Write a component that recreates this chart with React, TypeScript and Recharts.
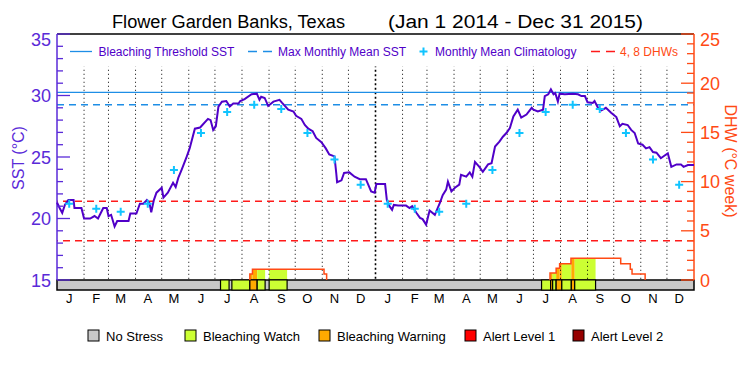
import React from 'react';
import { ComposedChart, Line, XAxis, YAxis, ReferenceLine, ReferenceArea } from 'recharts';

// ---- data ----
const sstDays = [0,3,6,9,13,19,20,28,31,38,43,47,53,57,59,62,66,69,82,84,91,95,99,103,106,108,111,114,120,122,127,133,136,139,143,148,152,158,164,173,176,179,182,185,189,194,198,202,208,210,215,223,229,232,234,238,242,248,255,258,265,271,274,280,284,288,293,297,303,308,312,318,320,321,326,329,335,341,347,354,360,364,366,376,378,381,384,386,391,400,404,407,412,416,419,423,427,433,439,442,446,448,452,456,461,463,469,473,476,479,484,488,494,498,502,507,511,515,519,523,528,532,538,544,546,551,557,559,563,566,569,571,574,576,582,591,597,601,605,608,614,616,620,624,629,635,641,645,648,654,658,662,666,671,675,679,683,687,692,696,700,704,710,715,718,723,730];
const sstValues = [21.3,20.85,20.45,21.1,21.5,21.5,20.85,20.85,20.0,20.0,20.2,20.0,20.85,20.85,20.2,20.3,19.35,19.8,19.8,20.4,20.4,21.2,21.2,21.5,21.25,20.5,21.5,22.1,22.5,21.7,22.1,22.9,22.55,23.3,24.0,24.9,25.7,27.3,27.4,28.1,28.0,27.2,27.5,29.1,29.5,29.55,29.1,29.35,29.35,29.55,29.7,30.1,30.15,29.65,29.9,29.8,29.15,29.5,29.65,29.4,28.85,28.7,28.35,28.1,27.6,27.3,27.1,26.55,26.2,25.7,25.2,25.05,23.7,22.95,23.1,23.7,23.75,23.4,23.2,23.2,22.2,22.1,22.8,22.8,21.5,21.0,20.7,21.1,21.05,21.05,20.85,21.0,20.45,20.05,19.95,19.5,20.65,20.3,21.3,21.9,22.35,23.0,22.2,22.5,22.75,23.55,23.4,23.75,23.4,24.6,24.2,23.8,24.4,24.5,25.85,26.25,26.65,26.95,27.35,28.3,28.85,28.2,28.45,29.0,28.85,28.7,28.85,29.95,30.1,30.5,30.1,30.2,29.5,30.15,30.1,30.15,30.1,29.95,29.95,29.45,29.4,29.55,29.0,28.8,29.0,28.6,28.25,27.5,27.7,27.6,27.2,26.95,26.1,26.0,25.7,25.8,25.4,25.35,24.9,25.1,25.3,24.2,24.4,24.4,24.2,24.35,24.35];

const climDays = [14,45,73,104,134,165,195,226,257,287,318,348,379,410,438,469,499,530,560,591,622,652,683,713];
const climValues = [21.2,20.8,20.55,21.2,23.95,26.95,28.65,29.25,28.9,26.95,24.8,22.75,21.2,20.8,20.55,21.2,23.95,26.95,28.65,29.25,28.9,26.95,24.8,22.75];

const dhw2014Days = [221,221,224,306,309];
const dhw2014Values = [0,0.6,1.1,0.6,0];
const dhw2015Days = [565,565,572,576,589,646,657,659,674];
const dhw2015Values = [0,0.7,1.2,1.65,2.2,1.65,1.1,0.6,0];

const stressStart = [187.4,200.4,221,229.4,243.1,555.3,565.7,568,572,578.5,589.4,593.3];
const stressEnd = [197.2,221,229.4,238.5,263.7,565.7,568,572,578.5,589.4,593.3,617.2];
const stressLevel = [1,1,2,1,1,1,2,1,2,1,2,1];

const MMM = 29.25;
const THRESHOLD = 30.25;
const DHW_LINES = [4, 8];

const monthStarts = [31,59,90,120,151,181,212,243,273,304,334,365,396,424,455,485,516,546,577,608,638,669,699];
const monthMids = [14,45,73,104,134,165,195,226,257,287,318,348,379,410,438,469,499,530,560,591,622,652,683,713];
const monthLetters = ['J','F','M','A','M','J','J','A','S','O','N','D','J','F','M','A','M','J','J','A','S','O','N','D'];
const yearMids = [182.5, 547.5];
const yearLabels = ['2014', '2015'];
const sstTicks = [15,16,17,18,19,20,21,22,23,24,25,26,27,28,29,30,31,32,33,34,35];
const dhwTicks = [0,1,2,3,4,5,6,7,8,9,10,11,12,13,14,15,16,17,18,19,20,21,22,23,24,25];

const stressNames = ['No Stress', 'Bleaching Watch', 'Bleaching Warning', 'Alert Level 1', 'Alert Level 2'];
const stressColors = ['#c8c8c8', '#ccff33', '#ffaa00', '#ff0000', '#960000'];

// ---- layout ----
const FONT = '"Liberation Sans", Arial, sans-serif';
const PURPLE = '#5a2ad8';
const ORANGE = '#ff4a14';
const SST_COLOR = '#5000c8';
const BLUE = '#1e8ee6';
const CYAN = '#10c4ff';
const RED = '#ff1a1a';
const SST_MIN = 14.187;
const DHW_MIN = -1.016;

const sstData = sstDays.map((d, i) => ({ day: d, sst: sstValues[i] }));
const climData = climDays.map((d, i) => ({ day: d, clim: climValues[i] }));
const dhw2014 = dhw2014Days.map((d, i) => ({ day: d, dhw: dhw2014Values[i] }));
const dhw2015 = dhw2015Days.map((d, i) => ({ day: d, dhw: dhw2015Values[i] }));

// fill under the DHW curve, coloured by the stress level of that day
const fills: { x1: number; x2: number; y: number; color: string }[] = [];
[[dhw2014Days, dhw2014Values], [dhw2015Days, dhw2015Values]].forEach(([days, vals]) => {
  for (let i = 0; i < days.length - 1; i++) {
    if (vals[i] <= 0) continue;
    stressStart.forEach((s, j) => {
      const a = Math.max(s, days[i]);
      const b = Math.min(stressEnd[j], days[i + 1]);
      if (b > a) fills.push({ x1: a, x2: b, y: vals[i], color: stressColors[stressLevel[j]] });
    });
  }
});

const SstTick = (props: any) => {
  const { x, y, payload } = props;
  const major = payload.value % 5 === 0;
  return (
    <g>
      <line x1={x} x2={x + (major ? 13 : 6)} y1={y} y2={y} stroke={PURPLE} strokeWidth={1.3} />
      {major && (
        <text x={x - 6} y={y + (payload.value === 35 ? 12 : 6.5)} textAnchor="end" fontSize={18} fontFamily={FONT} fill={PURPLE}>
          {payload.value}
        </text>
      )}
    </g>
  );
};

const DhwTick = (props: any) => {
  const { x, y, payload } = props;
  const major = payload.value % 5 === 0;
  return (
    <g>
      <line x1={x - (major ? 13 : 7)} x2={x} y1={y} y2={y} stroke={ORANGE} strokeWidth={1.3} />
      {major && (
        <text x={x + 6} y={y + (payload.value === 25 ? 12 : 6.5)} textAnchor="start" fontSize={18} fontFamily={FONT} fill={ORANGE}>
          {payload.value}
        </text>
      )}
    </g>
  );
};

const Cross = (props: any) => {
  const { cx, cy } = props;
  if (cx == null || cy == null) return <g />;
  return <path d={`M${cx - 4},${cy}H${cx + 4}M${cx},${cy - 4}V${cy + 4}`} stroke={CYAN} strokeWidth={2} fill="none" />;
};

export default function App() {
  return (
    <div style={{ position: 'absolute', left: 0, top: 0, width: 750, height: 375, background: '#fff', fontFamily: FONT }}>
      <ComposedChart width={750} height={375} margin={{ top: 34, right: 0, bottom: 48, left: 0 }}>
        <XAxis dataKey="day" type="number" domain={[0, 730]} ticks={monthMids} interval={0}
          tickFormatter={(v: number) => monthLetters[monthMids.indexOf(v)]}
          axisLine={false} tickLine={false} tickSize={0} tickMargin={4} height={17}
          tick={{ fill: '#000', fontSize: 13, fontFamily: FONT }} />
        <XAxis xAxisId="year" dataKey="day" type="number" domain={[0, 730]} ticks={yearMids} interval={0}
          tickFormatter={(v: number) => yearLabels[yearMids.indexOf(v)]}
          axisLine={false} tickLine={false} tickSize={0} tickMargin={3} height={20}
          tick={{ fill: '#000', fontSize: 15, fontFamily: FONT }} />
        <YAxis yAxisId="sst" orientation="left" type="number" domain={[SST_MIN, 35]} ticks={sstTicks} interval={0}
          axisLine={false} tickLine={false} tickSize={0} tickMargin={0} width={57} tick={<SstTick />} />
        <YAxis yAxisId="dhw" orientation="right" type="number" domain={[DHW_MIN, 25]} ticks={dhwTicks} interval={0}
          axisLine={false} tickLine={false} tickSize={0} tickMargin={0} width={56} tick={<DhwTick />} />

        {monthStarts.map((d) => (
          <ReferenceLine key={`m${d}`} yAxisId="sst" segment={[{ x: d, y: 15.1 }, { x: d, y: 32.35 }]}
            stroke="#000" strokeWidth={d === 365 ? 1.6 : 1} strokeDasharray={d === 365 ? '2 2.5' : '1 3'} />
        ))}

        {fills.map((f, i) => (
          <ReferenceArea key={`f${i}`} yAxisId="dhw" x1={f.x1} x2={f.x2} y1={0} y2={f.y} fill={f.color} fillOpacity={1} stroke="none" />
        ))}

        <ReferenceArea yAxisId="dhw" x1={0} x2={730} y1={DHW_MIN} y2={0} fill={stressColors[0]} fillOpacity={1} stroke="#000" strokeWidth={1.5} />
        {stressStart.map((s, i) => (
          <ReferenceArea key={`s${i}`} yAxisId="dhw" x1={s} x2={stressEnd[i]} y1={DHW_MIN} y2={0}
            fill={stressColors[stressLevel[i]]} fillOpacity={1} stroke="#000" strokeWidth={1.2} />
        ))}

        <ReferenceLine yAxisId="sst" y={THRESHOLD} stroke={BLUE} strokeWidth={1.3} />
        <ReferenceLine yAxisId="sst" y={MMM} stroke={BLUE} strokeWidth={1.3} strokeDasharray="7 5" />
        {DHW_LINES.map((v) => (
          <ReferenceLine key={`d${v}`} yAxisId="dhw" y={v} stroke={RED} strokeWidth={1.5} strokeDasharray="7 5" />
        ))}

        <ReferenceLine yAxisId="sst" y={35} stroke="#000" strokeWidth={1.5} />
        <ReferenceLine yAxisId="sst" segment={[{ x: 0, y: 15 }, { x: 0, y: 35 }]} stroke={PURPLE} strokeWidth={1.5} />
        <ReferenceLine yAxisId="dhw" segment={[{ x: 730, y: 0 }, { x: 730, y: 25 }]} stroke={ORANGE} strokeWidth={1.5} />

        <Line yAxisId="dhw" data={dhw2014} dataKey="dhw" type="stepAfter" stroke={ORANGE} strokeWidth={1.5} dot={false} isAnimationActive={false} />
        <Line yAxisId="dhw" data={dhw2015} dataKey="dhw" type="stepAfter" stroke={ORANGE} strokeWidth={1.5} dot={false} isAnimationActive={false} />
        <Line yAxisId="sst" data={sstData} dataKey="sst" type="linear" stroke={SST_COLOR} strokeWidth={2} dot={false} isAnimationActive={false} />
        <Line yAxisId="sst" data={climData} dataKey="clim" stroke="none" dot={<Cross />} activeDot={false} isAnimationActive={false} />
      </ComposedChart>

      <svg width={750} height={375} style={{ position: 'absolute', left: 0, top: 0, pointerEvents: 'none' }} fontFamily={FONT}>
        <text x={112} y={28} fontSize={18} textLength={233} lengthAdjust="spacingAndGlyphs" fill="#000">Flower Garden Banks, Texas</text>
        <text x={388} y={28} fontSize={18} textLength={255} lengthAdjust="spacingAndGlyphs" fill="#000">(Jan 1 2014 - Dec 31 2015)</text>
        <text transform="translate(24,158) rotate(-90)" textAnchor="middle" fontSize={16} fill={PURPLE}>SST (°C)</text>
        <text transform="translate(725,161) rotate(90)" textAnchor="middle" fontSize={16} fill={ORANGE}>DHW (°C week)</text>

        <line x1={70} x2={92} y1={51.5} y2={51.5} stroke={BLUE} strokeWidth={1.3} />
        <text x={98.5} y={55.5} fontSize={12} fill={SST_COLOR}>Bleaching Threshold SST</text>
        <line x1={248} x2={272} y1={51.5} y2={51.5} stroke={BLUE} strokeWidth={1.3} strokeDasharray="9 6" />
        <text x={278} y={55.5} fontSize={12} fill={SST_COLOR}>Max Monthly Mean SST</text>
        <path d="M419.5,51.5H427.5M423.5,47.5V55.5" stroke={CYAN} strokeWidth={2} />
        <text x={435} y={55.5} fontSize={12} fill={SST_COLOR}>Monthly Mean Climatology</text>
        <line x1={591} x2={615} y1={51.5} y2={51.5} stroke={RED} strokeWidth={1.5} strokeDasharray="9 6" />
        <text x={620} y={55.5} fontSize={12} fill={ORANGE}>4, 8 DHWs</text>

        {stressNames.map((n, i) => {
          const bx = [88, 185, 319, 465, 573][i];
          return (
            <g key={n}>
              <rect x={bx} y={330} width={11} height={11} fill={stressColors[i]} stroke="#000" strokeWidth={1} />
              <text x={bx + 18} y={341} fontSize={13} fill="#000">{n}</text>
            </g>
          );
        })}
      </svg>
    </div>
  );
}
